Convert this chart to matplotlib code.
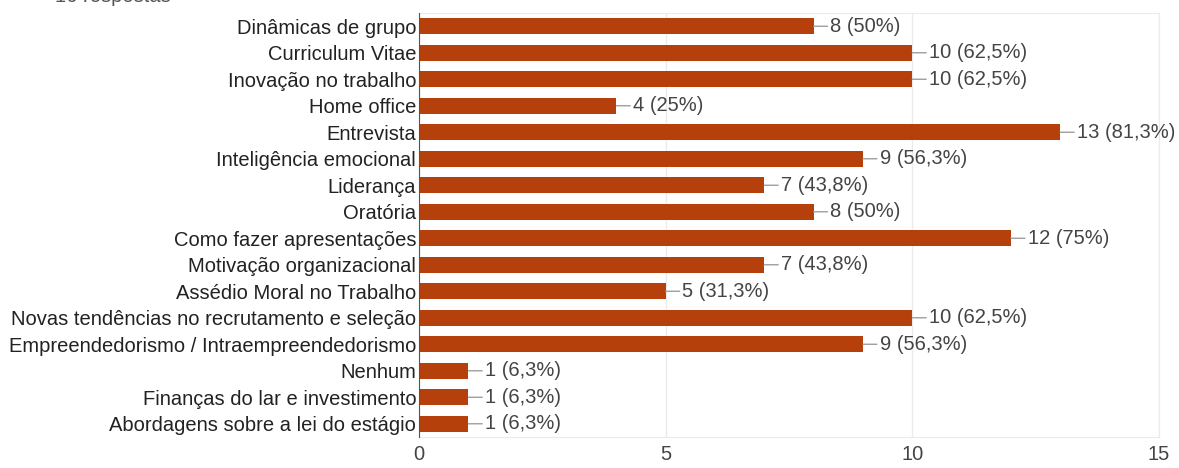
from decimal import Decimal, ROUND_HALF_UP
import matplotlib.pyplot as plt

total = 16
topics = [
    'Dinâmicas de grupo',
    'Curriculum Vitae',
    'Inovação no trabalho',
    'Home office',
    'Entrevista',
    'Inteligência emocional',
    'Liderança',
    'Oratória',
    'Como fazer apresentações',
    'Motivação organizacional',
    'Assédio Moral no Trabalho',
    'Novas tendências no recrutamento e seleção',
    'Empreendedorismo / Intraempreendedorismo',
    'Nenhum',
    'Finanças do lar e investimento',
    'Abordagens sobre a lei do estágio',
]
votes = [8, 10, 10, 4, 13, 9, 7, 8, 12, 7, 5, 10, 9, 1, 1, 1]
xticks = [0, 5, 10, 15]


def pct(n):
    # percentage with one decimal, comma separator, trailing ",0" dropped
    p = (Decimal(n) * 100 / Decimal(total)).quantize(Decimal('0.1'), rounding=ROUND_HALF_UP)
    if p == p.to_integral():
        s = str(int(p))
    else:
        s = format(p, 'f')
    return s.replace('.', ',')


plt.rcParams['font.family'] = ['Liberation Sans', 'DejaVu Sans']
fs = 14.5

fig = plt.figure(figsize=(11.79, 4.68), dpi=100)
ax = fig.add_axes([0.3554, 0.0662, 0.6276, 0.906])

ypos = list(range(len(topics)))
ax.barh(ypos, votes, height=0.6, color='#b5400b', zorder=3)

for y, v in zip(ypos, votes):
    ax.annotate(f'{v} ({pct(v)}%)', xy=(v, y), xytext=(12, 0),
                textcoords='offset points', va='center', ha='left',
                fontsize=fs, color='#444444',
                arrowprops=dict(arrowstyle='-', color='#9e9e9e', lw=1,
                                shrinkA=0, shrinkB=0, relpos=(0, 0.5)))

ax.set_ylim(len(topics) - 0.5, -0.5)
ax.set_xlim(0, 15)
ax.set_yticks(ypos)
ax.set_yticklabels(topics, fontsize=fs, color='#222222')
ax.set_xticks(xticks)
ax.set_xticklabels([str(t) for t in xticks], fontsize=fs, color='#444444')
ax.tick_params(axis='both', length=0)
ax.tick_params(axis='y', pad=2)
ax.tick_params(axis='x', pad=6)

ax.grid(axis='x', color='#ebebeb', lw=1, zorder=0)
for side in ['top', 'right', 'bottom']:
    ax.spines[side].set_color('#ebebeb')
ax.spines['left'].set_color('#555555')
ax.spines['left'].set_zorder(4)

# response count header, sitting mostly above the top edge
fig.text(0.047, 1 - 2 / 468, '16 respostas', fontsize=fs, color='#555555',
         va='baseline', ha='left')

fig.savefig('out.png', dpi=100)
